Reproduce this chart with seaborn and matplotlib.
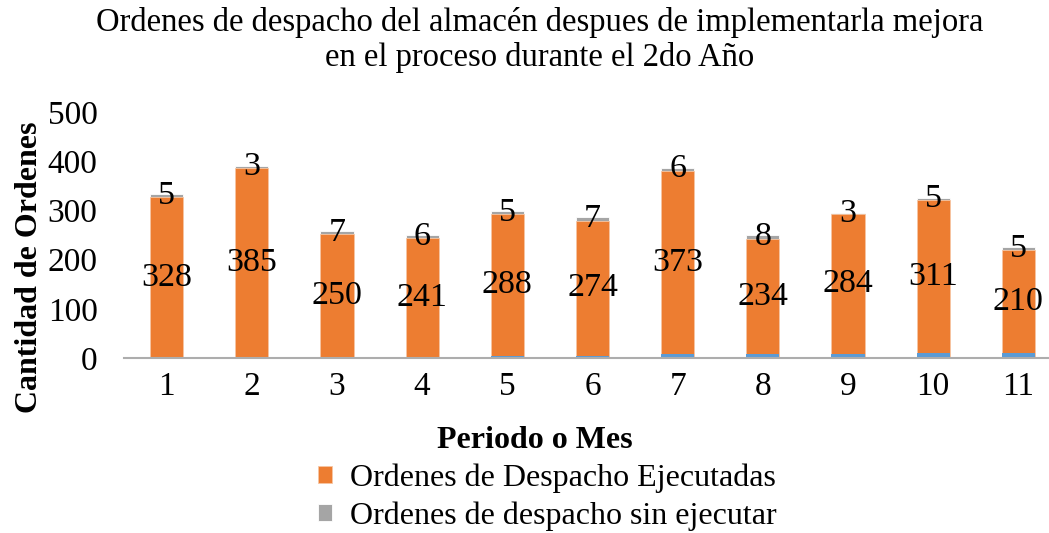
import pandas as pd
import seaborn as sns
import matplotlib.pyplot as plt

# datos
meses = ["1", "2", "3", "4", "5", "6", "7", "8", "9", "10", "11"]
ordenes_base = [0, 2, 2, 2, 5, 5, 8, 8, 8, 10, 10]
ejecutadas = [328, 385, 250, 241, 288, 274, 373, 234, 284, 311, 210]
sin_ejecutar = [5, 3, 7, 6, 5, 7, 6, 8, 3, 5, 5]

df = pd.DataFrame({"Mes": meses, "base": ordenes_base,
                   "ejec": ejecutadas, "sin": sin_ejecutar})
df["tope_ejec"] = df["base"] + df["ejec"]
df["total"] = df["tope_ejec"] + df["sin"]

sns.set_theme(style="white", rc={"text.color": "black", "xtick.color": "black",
                                 "ytick.color": "black", "axes.labelcolor": "black"})
plt.rcParams['font.family'] = ['Liberation Serif', 'DejaVu Serif']

W, H = 1049, 533
fig = plt.figure(figsize=(W / 100, H / 100), dpi=100)
ax = fig.add_axes([124 / W, (H - 358) / H, (1061 - 124) / W, (358 - 112) / H])

azul, naranja, gris = "#5B9BD5", "#ED7D31", "#A5A5A5"
ancho = 0.39
# barras apiladas: se dibujan los acumulados de mayor a menor
sns.barplot(data=df, x="Mes", y="total", color=gris, width=ancho, saturation=1,
            edgecolor="white", linewidth=0.6, ax=ax, label="Ordenes de despacho sin ejecutar")
sns.barplot(data=df, x="Mes", y="tope_ejec", color=naranja, width=ancho, saturation=1,
            edgecolor="#F7C6A3", linewidth=0.6, ax=ax, label="Ordenes de Despacho Ejecutadas")
sns.barplot(data=df, x="Mes", y="base", color=azul, width=ancho, saturation=1,
            linewidth=0, ax=ax)

for i, r in df.iterrows():
    ax.text(i, r["base"] + r["ejec"] / 2, str(r["ejec"]), ha="center", va="center",
            fontsize=24.5, color="black")
    ax.text(i, r["tope_ejec"] + r["sin"] / 2, str(r["sin"]), ha="center", va="center",
            fontsize=24.5, color="black")

ax.set_xlim(-0.5, 10.5)
ax.set_ylim(0, 500)
ax.set_yticks([0, 100, 200, 300, 400, 500])
ax.tick_params(axis="y", length=0, pad=19, labelsize=24, labelcolor="black")
ax.tick_params(axis="x", length=0, pad=10, labelsize=24, labelcolor="black")
ax.set_xlabel("")
ax.set_ylabel("")
for s in ["top", "right", "left"]:
    ax.spines[s].set_visible(False)
ax.spines["bottom"].set_color("#ADADAD")
ax.spines["bottom"].set_linewidth(1.5)
if ax.get_legend():
    ax.get_legend().remove()

fig.text(540 / W, 1 - 40 / H, "Ordenes de despacho del almacén despues de implementarla mejora\nen el proceso durante el 2do Año",
         ha="center", va="center", fontsize=23.5, linespacing=1.13, color="black")
fig.text(535 / W, 1 - 440 / H, "Periodo o Mes", ha="center", va="center",
         fontsize=23, fontweight="bold", color="black")
fig.text(30 / W, 1 - 267 / H, "Cantidad de Ordenes", ha="center", va="center",
         rotation=90, fontsize=23, fontweight="bold", color="black")

handles, labels = ax.get_legend_handles_labels()
orden = [labels.index("Ordenes de Despacho Ejecutadas"), labels.index("Ordenes de despacho sin ejecutar")]
leg = fig.legend([handles[k] for k in orden], [labels[k] for k in orden],
                 loc="center left", bbox_to_anchor=(318 / W, 1 - 497 / H), frameon=False,
                 fontsize=23, handlelength=0.45, handleheight=0.45, handletextpad=0.55,
                 labelspacing=0.27, borderaxespad=0, borderpad=0)
for t in leg.get_texts():
    t.set_color("black")

fig.savefig("out.png", dpi=100)
